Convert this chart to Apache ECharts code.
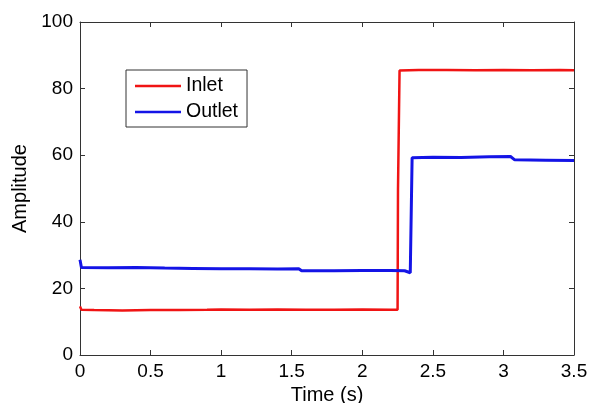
<!DOCTYPE html>
<html>
<head>
<meta charset="utf-8">
<script src="https://cdn.jsdelivr.net/npm/echarts@6/dist/echarts.min.js"></script>
<style>html,body{margin:0;padding:0;background:#fff;}#c{width:590px;height:403px;}</style>
</head>
<body>
<div id="c"></div>
<script>
var xTicks = [0, 0.5, 1, 1.5, 2, 2.5, 3, 3.5];
var yTicks = [0, 20, 40, 60, 80, 100];
var seriesNames = ['Inlet', 'Outlet'];
var inletT = [0, 0.01, 0.1, 0.3, 0.5, 0.7, 0.9, 1.0, 1.2, 1.4, 1.6, 1.8, 2.0, 2.2, 2.25, 2.253, 2.258, 2.264, 2.4, 2.6, 2.8, 3.0, 3.2, 3.4, 3.5];
var inletV = [14.6, 13.6, 13.5, 13.4, 13.5, 13.5, 13.6, 13.7, 13.6, 13.7, 13.6, 13.6, 13.7, 13.6, 13.6, 49.6, 49.6, 85.4, 85.6, 85.6, 85.5, 85.6, 85.5, 85.6, 85.5];
var outletT = [0, 0.01, 0.2, 0.4, 0.6, 0.8, 1.0, 1.2, 1.4, 1.55, 1.57, 1.8, 2.0, 2.2, 2.3, 2.34, 2.35, 2.353, 2.5, 2.7, 2.9, 3.05, 3.08, 3.3, 3.5];
var outletV = [28.6, 26.3, 26.2, 26.3, 26.1, 26.0, 25.9, 25.9, 25.8, 25.9, 25.3, 25.3, 25.4, 25.4, 25.3, 24.7, 24.5, 59.2, 59.4, 59.3, 59.5, 59.6, 58.6, 58.5, 58.4];

function pairs(t, v) { return t.map(function (x, i) { return [x, v[i]]; }); }

var font = 'Liberation Sans, Arial, sans-serif';
var axisLine = { show: true, onZero: false, lineStyle: { color: '#333', width: 1 } };
var tickIn = { show: true, inside: true, length: 5, lineStyle: { color: '#333' } };

var chart = echarts.init(document.getElementById('c'));
chart.setOption({
  animation: false,
  backgroundColor: '#fff',
  grid: { left: 80, right: 16, top: 22, bottom: 48, containLabel: false, outerBoundsMode: 'none' },
  legend: {
    orient: 'vertical', left: 126, top: 70,
    data: seriesNames,
    icon: 'rect', itemWidth: 46, itemHeight: 2.5, itemGap: 6,
    padding: [6, 9, 5, 9],
    backgroundColor: '#fff', borderColor: '#333', borderWidth: 1, borderRadius: 0,
    textStyle: { fontFamily: font, fontSize: 19.5, color: '#000', lineHeight: 20 }
  },
  xAxis: [{
    type: 'value', min: xTicks[0], max: xTicks[xTicks.length - 1], interval: 0.5,
    name: 'Time (s)', nameLocation: 'middle', nameGap: 30,
    nameTextStyle: { fontFamily: font, fontSize: 20, color: '#000' },
    axisLine: axisLine, axisTick: tickIn, splitLine: { show: false },
    axisLabel: { fontFamily: font, fontSize: 19, color: '#000', margin: 7 }
  }, {
    type: 'value', position: 'top', min: xTicks[0], max: xTicks[xTicks.length - 1], interval: 0.5,
    axisLine: axisLine, axisTick: tickIn, splitLine: { show: false }, axisLabel: { show: false }
  }],
  yAxis: [{
    type: 'value', min: yTicks[0], max: yTicks[yTicks.length - 1], interval: 20,
    name: 'Amplitude', nameLocation: 'middle', nameGap: 47,
    nameTextStyle: { fontFamily: font, fontSize: 20, color: '#000' },
    axisLine: axisLine, axisTick: tickIn, splitLine: { show: false },
    axisLabel: { fontFamily: font, fontSize: 19, color: '#000', margin: 7 }
  }, {
    type: 'value', position: 'right', min: yTicks[0], max: yTicks[yTicks.length - 1], interval: 20,
    axisLine: axisLine, axisTick: tickIn, splitLine: { show: false }, axisLabel: { show: false }
  }],
  series: [{
    name: seriesNames[0], type: 'line', showSymbol: false, symbol: 'none',
    data: pairs(inletT, inletV),
    color: '#f01414', lineStyle: { color: '#f01414', width: 2.5 }
  }, {
    name: seriesNames[1], type: 'line', showSymbol: false, symbol: 'none',
    data: pairs(outletT, outletV),
    color: '#1414e6', lineStyle: { color: '#1414e6', width: 3 }
  }]
});
</script>
</body>
</html>
